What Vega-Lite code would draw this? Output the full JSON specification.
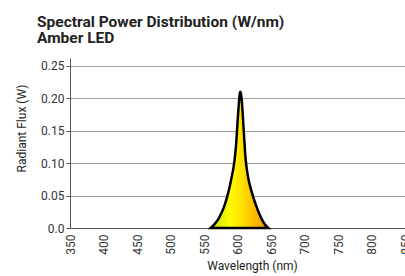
{
  "$schema": "https://vega.github.io/schema/vega-lite/v6.json",
  "width": 335,
  "height": 170,
  "autosize": "none",
  "padding": {"left": 70, "top": 58, "right": 0, "bottom": 48},
  "background": "white",
  "config": {
    "font": "Roboto",
    "view": {"stroke": null},
    "axis": {"labelFont": "Roboto", "titleFont": "Roboto", "labelColor": "#333333", "titleColor": "#222222", "titleFontWeight": "normal"}
  },
  "title": {
    "text": ["Spectral Power Distribution (W/nm)", "Amber LED"],
    "anchor": "start",
    "frame": "group",
    "dx": -33,
    "offset": 12,
    "fontSize": 15.5,
    "fontWeight": "bold",
    "font": "Roboto",
    "color": "#222222",
    "lineHeight": 16
  },
  "data": {
    "values": [
      {"wl": 560, "w": 0},
      {"wl": 564, "w": 0.004},
      {"wl": 568, "w": 0.009},
      {"wl": 572, "w": 0.015},
      {"wl": 576, "w": 0.023},
      {"wl": 580, "w": 0.033},
      {"wl": 584, "w": 0.046},
      {"wl": 588, "w": 0.062},
      {"wl": 591, "w": 0.077},
      {"wl": 594, "w": 0.093},
      {"wl": 596, "w": 0.108},
      {"wl": 598, "w": 0.130},
      {"wl": 600, "w": 0.162},
      {"wl": 602, "w": 0.192},
      {"wl": 603, "w": 0.204},
      {"wl": 604, "w": 0.210},
      {"wl": 605, "w": 0.208},
      {"wl": 606, "w": 0.200},
      {"wl": 607, "w": 0.188},
      {"wl": 608, "w": 0.172},
      {"wl": 610, "w": 0.138},
      {"wl": 612, "w": 0.108},
      {"wl": 614, "w": 0.090},
      {"wl": 617, "w": 0.072},
      {"wl": 620, "w": 0.060},
      {"wl": 624, "w": 0.046},
      {"wl": 628, "w": 0.034},
      {"wl": 632, "w": 0.023},
      {"wl": 636, "w": 0.014},
      {"wl": 640, "w": 0.007},
      {"wl": 643, "w": 0.003},
      {"wl": 646, "w": 0}
    ]
  },
  "mark": {
    "type": "area",
    "interpolate": "monotone",
    "stroke": "black",
    "strokeWidth": 2.5,
    "color": {
      "gradient": "linear",
      "x1": 0, "x2": 1, "y1": 0, "y2": 0,
      "stops": [
        {"offset": 0, "color": "#c4e400"},
        {"offset": 0.33, "color": "#fcfc00"},
        {"offset": 0.55, "color": "#ffe000"},
        {"offset": 0.8, "color": "#f8b400"},
        {"offset": 1, "color": "#f09000"}
      ]
    }
  },
  "encoding": {
    "x": {
      "field": "wl",
      "type": "quantitative",
      "scale": {"domain": [350, 850], "nice": false, "zero": false},
      "axis": {
        "title": "Wavelength (nm)",
        "titleFontSize": 12,
        "titleX": 182,
        "titlePadding": 6,
        "values": [350, 400, 450, 500, 550, 600, 650, 700, 750, 800, 850],
        "labelAngle": -90,
        "labelFontSize": 12,
        "ticks": false,
        "labelPadding": 6,
        "grid": false,
        "domainColor": "#555555",
        "labelFlush": false,
        "labelOverlap": false
      }
    },
    "y": {
      "field": "w",
      "type": "quantitative",
      "scale": {"domain": [0, 0.262], "nice": false},
      "axis": {
        "title": "Radiant Flux (W)",
        "titleFontSize": 12,
        "titleY": 70,
        "titlePadding": 12,
        "values": [0, 0.05, 0.1, 0.15, 0.2, 0.25],
        "labelExpr": "datum.value == 0 ? '0.0' : format(datum.value, '.2f')",
        "labelFontSize": 12,
        "tickSize": 4,
        "tickColor": "#555555",
        "labelPadding": 2,
        "domainColor": "#555555",
        "grid": true,
        "gridColor": "#a49c9c",
        "gridWidth": 1
      }
    }
  }
}
